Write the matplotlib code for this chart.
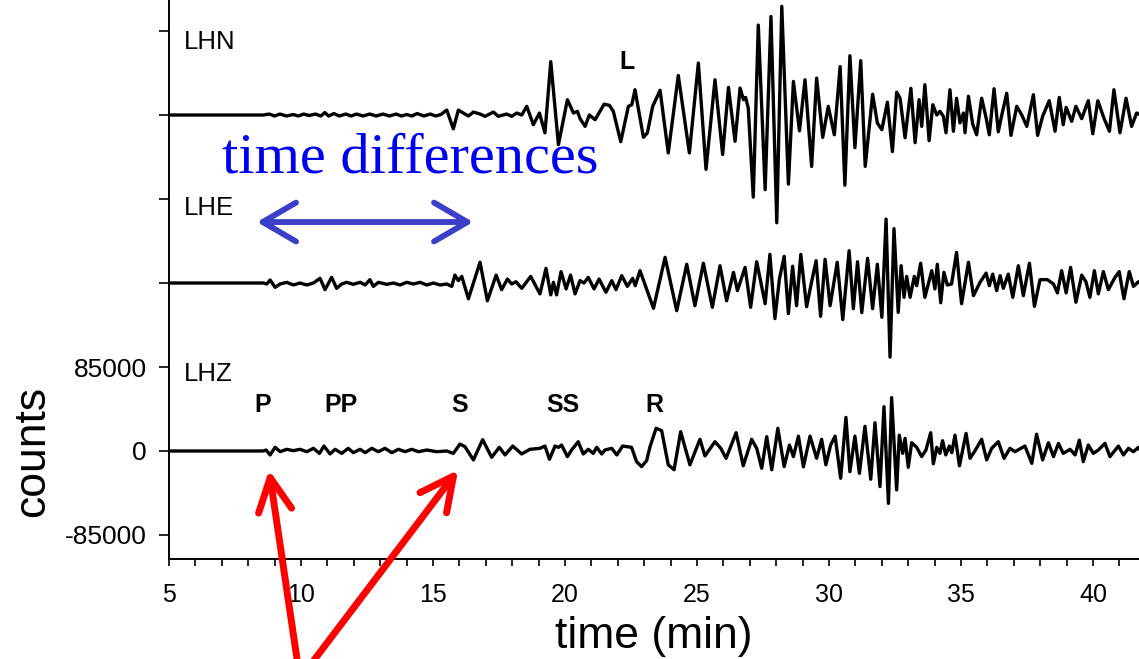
import matplotlib
matplotlib.use("Agg")
import matplotlib.pyplot as plt
import numpy as np

plt.rcParams['font.family'] = ['Liberation Sans', 'DejaVu Sans']

# traces: time (min) and amplitude (thousands of counts) at turning points
lhn_t = [5.0, 8.57, 8.8, 9.0, 9.2, 9.45, 9.7, 9.9, 10.1, 10.3, 10.55, 10.75, 10.9, 11.05, 11.25,
         11.45, 11.7, 11.9, 12.1, 12.35, 12.6, 12.85, 13.1, 13.35, 13.6, 13.8, 14.0, 14.2, 14.4,
         14.65, 14.9, 15.1, 15.3, 15.52, 15.77, 15.96, 16.15, 16.34, 16.53, 16.78, 16.97, 17.29,
         17.47, 17.79, 17.98, 18.17, 18.36, 18.55, 18.80, 19.03, 19.24, 19.46, 19.75, 20.09, 20.32,
         20.47, 20.57, 20.76, 20.92, 21.14, 21.48, 21.68, 21.83, 22.11, 22.40, 22.53, 22.65, 22.97,
         23.12, 23.32, 23.60, 23.91, 24.29, 24.71, 25.05, 25.34, 25.68, 25.97, 26.19, 26.44, 26.63,
         26.76, 26.84, 26.94, 27.13, 27.32, 27.58, 27.80, 28.02, 28.21, 28.46, 28.65, 28.88, 29.09,
         29.34, 29.53, 29.76, 29.97, 30.20, 30.42, 30.60, 30.79, 30.98, 31.20, 31.37, 31.65, 31.83,
         32.00, 32.21, 32.40, 32.56, 32.69, 32.88, 33.10, 33.26, 33.41, 33.51, 33.63, 33.79, 33.93,
         34.08, 34.20, 34.33, 34.43, 34.58, 34.71, 34.83, 34.96, 35.09, 35.15, 35.28, 35.44, 35.59,
         35.78, 35.95, 36.07, 36.25, 36.41, 36.56, 36.73, 36.89, 37.11, 37.30, 37.49, 37.74, 37.90,
         38.09, 38.34, 38.56, 38.72, 38.87, 38.98, 39.19, 39.35, 39.57, 39.82, 39.99, 40.18, 40.41,
         40.62, 40.79, 41.02, 41.25, 41.46, 41.65, 41.8]
lhn_v = [0, 0, 1, -1, 1, -1, 0.5, -1, 1, -0.5, 1, -1, 2.5, -1, 1.5,
         -1, 1, -1, 1, -1, 1, -1, 1, -1, 1, -1, 0.5, -1, 1.5,
         -1, 1, -1, 0.5, 5, -14, 5, 2, -1, 3, 1, -1.3, 3,
         -1.3, 1, -1.3, 2, 0, 8.8, -9.8, 2, -18, 54, -30, 15.5, 2,
         3.7, -3.7, -11.5, 0, -4.7, 11, 9.8, 3.7, -27, 8.8, 10.4, 25.6, -22.6,
         -18, 8.8, 25, -38.4, 40, -38.4, 52.6, -55, 35.7, -40, 28, -26.6, 27.3,
         15.5, 17.8, 7, -83, 91, -75.5, 99.7, -109, 110, -70, 34, -16, 35.7,
         -52, 37.4, -22.6, 8.8, -20, 49, -71, 60, -33, 55, -52, 21, -8,
         -14.8, 13, -37, 23, 17, -23, 27, -28, 15.5, -11.5, 30.7, -26, 10.4,
         0, 3.7, -1.3, -18, 25.6, -16.5, 17, -8, 2, -18, 19, -9, -20,
         17, -3, -20, 26.6, -17, 2, 22, -20.6, 8.8, 0, -11.5, 20.6, -20.6,
         -1.3, 14.5, -16.5, 17.8, -9.8, 7.7, -6.4, 8.8, -3.7, 14.5, -19, 14.5, -3,
         -16.5, 25.6, -18, 17, -11.5, 2, 0]

lhe_t = [5.0, 8.57, 8.70, 8.83, 9.02, 9.21, 9.46, 9.71, 9.96, 10.22, 10.47, 10.72, 10.91, 11.16,
         11.35, 11.54, 11.73, 11.98, 12.24, 12.43, 12.61, 12.74, 12.93, 13.25, 13.50, 13.75, 14.0,
         14.26, 14.51, 14.76, 15.01, 15.27, 15.52, 15.71, 15.83, 15.96, 16.09, 16.34, 16.78, 17.06,
         17.39, 17.60, 17.82, 17.98, 18.14, 18.36, 18.70, 19.05, 19.28, 19.46, 19.56, 19.68, 19.85,
         20.04, 20.21, 20.38, 20.57, 20.72, 20.88, 21.10, 21.29, 21.55, 21.77, 21.93, 22.15, 22.36,
         22.56, 22.66, 22.84, 23.35, 23.79, 24.23, 24.61, 24.92, 25.24, 25.58, 25.87, 26.12, 26.38,
         26.53, 26.82, 27.03, 27.26, 27.58, 27.76, 27.95, 28.12, 28.30, 28.46, 28.62, 28.77, 28.93,
         29.15, 29.34, 29.51, 29.68, 29.85, 30.04, 30.31, 30.52, 30.76, 30.92, 31.08, 31.24, 31.46,
         31.65, 31.83, 32.00, 32.16, 32.31, 32.46, 32.62, 32.73, 32.84, 32.94, 33.07, 33.23, 33.32,
         33.47, 33.63, 33.89, 34.01, 34.10, 34.23, 34.35, 34.48, 34.64, 34.83, 35.02, 35.28, 35.47,
         35.72, 35.95, 36.07, 36.20, 36.35, 36.48, 36.60, 36.79, 36.96, 37.17, 37.36, 37.59, 37.78,
         37.99, 38.27, 38.50, 38.65, 38.81, 38.98, 39.15, 39.35, 39.57, 39.73, 39.88, 40.05, 40.20,
         40.39, 40.58, 40.83, 40.99, 41.17, 41.37, 41.53, 41.72, 41.8]
lhe_v = [0, 0, -1, 3, -4.4, -1, 0.7, -2, 0, -2, 0, 4.7, -6.7, 5.7,
         -5.4, -1, 0.7, -1.3, 0.7, -2, 3.4, -3.4, 0.7, -1.3, 0, -2, 0.7,
         -1, 0.7, -2, 0, -2, -1, -3.4, 8, 2.4, 6.7, -16, 21, -18,
         8, -6.7, 4, -1, 1.3, -5.4, 6.7, -11, 14.8, -12, 0.7, -12, 11.5,
         -6, 8, -11, 2.4, 0, 5.7, -6, 4, -9.4, 2.4, -6.7, 7.4, -3.4,
         4.7, -2.7, 12.5, -25.6, 26, -28, 19, -23, 20, -24.6, 17.5, -18, 10.8,
         -7.7, 15.8, -24.6, 21.5, -21, 29, -36, 4, 27, -31, 17, -23, 29,
         -24, 1.3, 22.6, -33.7, 24, -23, 21, -37, 32.7, -26, 21.5, -30, 25,
         -26, 19, -34.7, 64.7, -75, 55, -29.7, 17.5, -14.5, 6.7, -14.5, 6.7, -2.7,
         20, -14.5, 12.5, -6, 19, -20, 10.8, -2, -1, 31, -21, 21, -12.8,
         0.7, 10, -2.7, 9, -7.7, 7.4, -5.4, 9, -14.5, 17.5, -12.8, 20, -23.6,
         3.4, 3.4, -1, -10, 12.5, -10, 15.8, -19.5, 8, 1.3, -14.5, 12.5, -11,
         11.5, -6.7, 5.7, 11.5, -16, 11.5, -3.4, 1.3, 0]

lhz_t = [5.0, 8.57, 8.68, 8.83, 9.02, 9.21, 9.46, 9.71, 9.96, 10.22, 10.47, 10.70, 10.87, 11.10,
         11.29, 11.54, 11.79, 11.98, 12.24, 12.43, 12.68, 12.93, 13.18, 13.44, 13.69, 13.94, 14.19,
         14.45, 14.76, 15.14, 15.52, 15.77, 16.02, 16.21, 16.53, 16.88, 17.22, 17.51, 17.73, 18.02,
         18.36, 18.67, 19.05, 19.24, 19.41, 19.62, 19.75, 19.87, 20.09, 20.25, 20.50, 20.69, 20.88,
         21.07, 21.20, 21.39, 21.51, 21.77, 21.96, 22.18, 22.52, 22.71, 22.90, 23.09, 23.22, 23.45,
         23.66, 23.91, 24.13, 24.38, 24.73, 25.11, 25.30, 25.68, 25.90, 26.10, 26.48, 26.75, 27.07,
         27.26, 27.45, 27.64, 27.83, 28.06, 28.30, 28.50, 28.65, 28.84, 29.03, 29.28, 29.53, 29.72,
         29.88, 30.06, 30.23, 30.44, 30.64, 30.79, 30.98, 31.15, 31.36, 31.58, 31.74, 31.93, 32.08,
         32.25, 32.37, 32.56, 32.66, 32.79, 32.88, 33.00, 33.13, 33.32, 33.51, 33.67, 33.85, 33.95,
         34.08, 34.20, 34.30, 34.42, 34.56, 34.65, 34.77, 34.94, 35.19, 35.34, 35.53, 35.78, 35.97,
         36.16, 36.41, 36.63, 36.85, 37.04, 37.42, 37.68, 37.86, 38.09, 38.31, 38.50, 38.69, 38.87,
         39.13, 39.32, 39.48, 39.63, 39.82, 40.01, 40.20, 40.45, 40.64, 40.96, 41.15, 41.34, 41.53,
         41.72, 41.8]
lhz_v = [0, 0, 1, -4, 3.7, -0.7, 1.7, 0.3, 1.7, -0.7, 2.7, -2.4, 5, -3,
         1.7, -2.4, 2.7, -1.7, 1.7, -1.7, 2.7, -0.7, 2.7, -1.7, 1.7, -0.7, 1.7,
         -0.7, 1, -0.7, 0, -2.4, 7, 4.4, -9, 11.5, -6.4, 3.7, -4, 5,
         -3, 1.7, 2.7, 5, -8.4, 5, 3.7, 6, -5.7, 1, 9.4, -3, 1.7,
         -2.4, 3.7, -3, 1, 2.7, -4, 5, 3.7, -10.8, -15.8, -9.8, 4.4, 23,
         20.6, -14, -19, 19.5, -14, 11.8, -5, 9.4, 2.7, -7.4, 18.5, -15, 11.8,
         2.7, -17.5, 14.5, -19, 23, -15.8, 6, -5.7, 15, -16, 15, -7.4, 11.8,
         -14, 6, 15, -27.6, 34, -21, 15, -22.6, 25, -28.6, 28.6, -36, 44.8,
         -53, 54, -39.4, 16, -2.4, 12.8, -16.5, 8.4, 3.7, -5.7, 1, 18.5, -13,
         3.7, -2.4, 10.4, -4, 5, -1.7, 16, -15, 17.8, -7.4, 0.3, 11.8, -9,
         2.7, 9.4, -7.4, 2.7, -0.7, 5, -12.5, 17, -9, 8.4, -5.7, 7.7, -2.4,
         1.7, -4, 11, -10.8, 6, -2.4, 1, 7.7, -5.7, 5, -4, 2.7, -0.7,
         3.7, 0]

offset = 85000
y_ticks = [-85000, 0, 85000, 170000, 255000, 340000, 425000]
y_labels = ['-85000', '0', '85000', '', '', '', '']

phases = ['P', 'PP', 'S', 'SS', 'R']
phase_t = [8.56, 11.52, 16.02, 19.92, 23.37]

fig = plt.figure(figsize=(11.39, 6.59), dpi=100)
ax = fig.add_axes([169 / 1139, 100 / 659, 970 / 1139, 559 / 659])

for tt, vv, shift in [(lhn_t, lhn_v, 4), (lhe_t, lhe_v, 2), (lhz_t, lhz_v, 0)]:
    ax.plot(tt, np.array(vv) * 1000 + shift * offset, color='black', lw=2.4,
            solid_joinstyle='round', solid_capstyle='round', zorder=3)

ax.set_xlim(5, 41.74)
ax.set_ylim(-109300, 456400)
ax.set_xticks(range(5, 45, 5))
ax.set_xticks(range(5, 42), minor=True)
ax.set_yticks(y_ticks)
ax.set_yticklabels(y_labels)
ax.tick_params(axis='x', which='both', direction='out', length=5, width=1.2, labelsize=18, pad=12)
ax.tick_params(axis='y', direction='out', length=7, width=1.2, labelsize=19, pad=9)
for s in ['top', 'right']:
    ax.spines[s].set_visible(False)
for s in ['left', 'bottom']:
    ax.spines[s].set_linewidth(1.4)

ax.set_xlabel('time (min)', fontsize=32, labelpad=7)
ax.text(-0.141, 0.193, 'counts', transform=ax.transAxes, rotation=90, fontsize=32,
        ha='center', va='center')

for name, shift, yy in [('LHN', 4, 74000), ('LHE', 2, 76000), ('LHZ', 0, 78000)]:
    ax.text(5.57, shift * offset + yy, name, fontsize=18.5, ha='left', va='center')

for p, tp in zip(phases, phase_t):
    ax.text(tp, 46500, p, fontsize=18, fontweight='bold', ha='center', va='center')
ax.text(22.35, 393700, 'L', fontsize=18, fontweight='bold', ha='center', va='center')

ax.text(7.01, 282000, 'time differences', fontsize=42, color='#0000f0',
        family=['Liberation Serif', 'DejaVu Serif'], ha='left', va='baseline')

ax.annotate('', xy=(16.52, 231700), xytext=(8.33, 231700),
            arrowprops=dict(arrowstyle='<->,head_length=1.2,head_width=0.7', lw=4.2,
                            color='#3a3ec8', mutation_scale=20, shrinkA=0, shrinkB=0,
                            capstyle='round', joinstyle='round'))

for tip_t, tail_t in [(8.79, 9.91), (15.95, 10.21)]:
    ax.annotate('', xy=(tip_t, -19200), xytext=(tail_t, -221600), annotation_clip=False,
                arrowprops=dict(arrowstyle='->,head_length=1.2,head_width=0.6', lw=5,
                                color='#ff0000', mutation_scale=20, shrinkA=0, shrinkB=0,
                                capstyle='round', joinstyle='round'))

fig.savefig('out.png', dpi=100)
